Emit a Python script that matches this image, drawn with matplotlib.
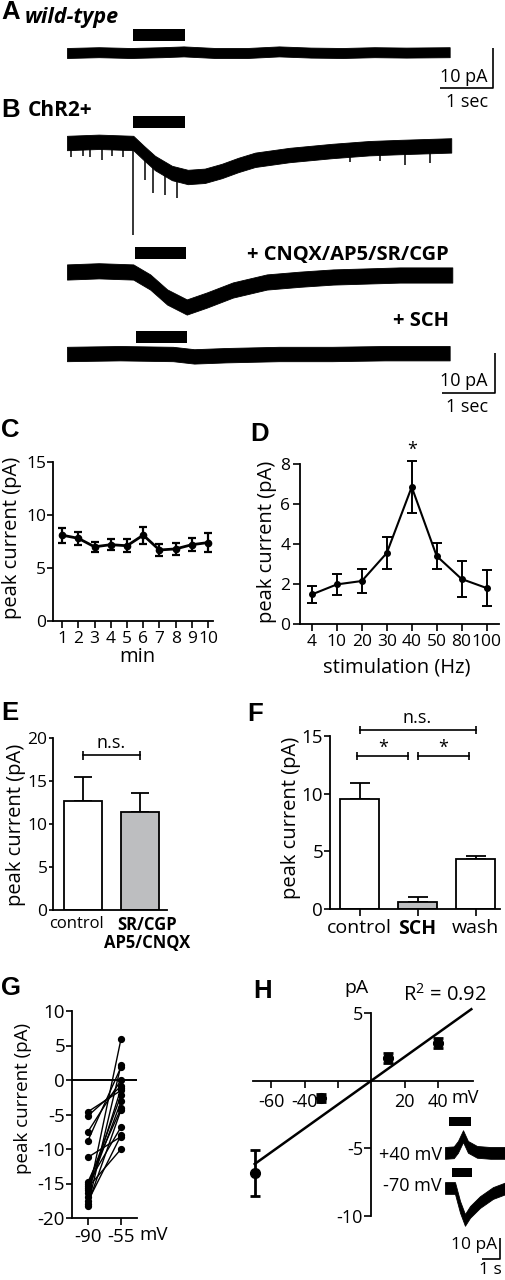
import numpy as np
import matplotlib.pyplot as plt
from matplotlib.patches import Rectangle

plt.rcParams['font.family'] = ['Open Sans', 'DejaVu Sans']
plt.rcParams['axes.unicode_minus'] = False
plt.rcParams['mathtext.fontset'] = 'custom'
plt.rcParams['mathtext.rm'] = 'Open Sans'

# ---------------- data ----------------
# A/B example traces: key times (s) and band centre (pA, relative to baseline)
wt_t = [0, 0.6, 1.2, 1.8, 2.2, 2.8, 3.4, 4.0, 4.6, 5.2, 5.8, 6.4, 7.22]
wt_i = [0, 0.2, 0, 0.2, 0.4, 0, 0, 0.4, 0.1, 0, 0.2, 0.1, 0.2]

chr_t = [0, 0.6, 1.25, 1.45, 1.66, 1.98, 2.28, 2.6, 2.92, 3.23, 3.55, 4.2, 5.0, 5.7, 6.3, 7.25]
chr_i = [0, 0.3, 0, -2.5, -5, -7.5, -8.5, -8.2, -7, -5.5, -4.2, -3, -2, -1.3, -1, -0.6]
# fast inward events on the ChR2+ trace (time s, tip pA)
spk_t = [0.08, 0.3, 0.43, 0.66, 0.85, 1.06, 1.25, 1.47, 1.62, 1.85, 2.08, 3.9, 4.6, 5.34, 5.9, 6.38, 6.85]
spk_i = [-3.5, -3.2, -3.5, -4.2, -3.3, -3.5, -23, -9.2, -12.5, -13, -13.8, -5.0, -4.0, -4.8, -4.5, -5.5, -5]

cnqx_t = [0, 0.6, 1.25, 1.57, 1.89, 2.26, 2.64, 3.13, 3.77, 4.4, 5.02, 6.28, 7.27]
cnqx_i = [0, 0.3, 0, -2.5, -6.25, -8.75, -7, -4.5, -2.5, -1.8, -1.25, -0.75, -0.75]

sch_t = [0, 1.0, 2.0, 2.4, 3.0, 4.0, 5.0, 6.0, 7.22]
sch_i = [0, 0.2, 0, -0.6, -0.3, 0, 0, 0.2, 0.2]

stim_on = [1.25, 1.25, 1.28, 1.30]
stim_dur = 0.97

# C: peak current over time
c_min = [1, 2, 3, 4, 5, 6, 7, 8, 9, 10]
c_mean = [8.1, 7.8, 7.0, 7.2, 7.1, 8.1, 6.7, 6.8, 7.2, 7.4]
c_err = [0.7, 0.6, 0.5, 0.5, 0.6, 0.8, 0.6, 0.6, 0.6, 0.9]

# D: stimulation frequency
d_hz = ['4', '10', '20', '30', '40', '50', '80', '100']
d_mean = [1.48, 1.98, 2.15, 3.55, 6.85, 3.4, 2.25, 1.8]
d_err = [0.42, 0.52, 0.62, 0.78, 1.3, 0.66, 0.9, 0.9]

# E: blockers
e_names = ['control', 'SR/CGP\nAP5/CNQX']
e_mean = [12.7, 11.4]
e_err = [2.8, 2.2]

# F: SCH
f_names = ['control', 'SCH', 'wash']
f_mean = [9.5, 0.6, 4.3]
f_err = [1.4, 0.4, 0.3]

# G: paired cells, -90 vs -55 mV
g_m90 = [-4.6, -5.2, -7.5, -8.8, -11.2, -14.8, -15.0, -15.3, -15.6, -16.0, -16.4, -17.0, -17.6, -18.0, -18.2]
g_m55 = [-1.5, -0.9, 0.0, 1.9, -8.2, -4.1, -6.8, -2.2, -10.0, -3.1, -1.2, 6.0, -8.0, -4.3, 2.2]

# H: I-V
h_mv = [-70, -30, 10, 40]
h_pa = [-6.85, -1.3, 1.67, 2.8]
h_err = [1.7, 0.3, 0.35, 0.35]
fit_slope, fit_icpt = 0.088, 0.0
fit_range = [-70, 60]

# H inset traces (time s, pA rel. baseline)
p40_t = [0, 0.5, 0.74, 1.03, 1.31, 1.83, 2.6, 3.5]
p40_i = [0, 0.3, 2.9, 8.0, 2.9, 0.5, 0, 0]
m70_t = [0, 0.57, 0.86, 1.14, 1.43, 2.0, 2.74, 3.5]
m70_i = [0, 0, -9, -15.2, -11.4, -6.7, -2.4, 0]

# ---------------- figure ----------------
W, H = 506, 1280
fig = plt.figure(figsize=(W / 100, H / 100), dpi=100)


def rect(x0, y0, x1, y1):
    return [x0 / W, 1 - y1 / H, (x1 - x0) / W, (y1 - y0) / H]


def label(x, y, s, **kw):
    fig.text(x / W, 1 - y / H, s, va='center', **kw)


def letter(x, y, s):
    label(x, y, s, family=['Liberation Sans', 'DejaVu Sans'], weight='bold', fontsize=18.5)


def band(ax, t, c, hw, off):
    t = np.array(t)
    c = np.array(c)
    ax.fill_between(t, off + c - hw, off + c + hw, color='k', lw=0.6)


def scalebar(ax, x, y, dx, dy):
    ax.plot([x - dx, x, x], [y, y, y + dy], color='k', lw=1.2, solid_capstyle='butt')


def style(ax):
    for s in ['top', 'right']:
        ax.spines[s].set_visible(False)
    for s in ['left', 'bottom']:
        ax.spines[s].set_linewidth(1.3)
    ax.tick_params(width=1.2, length=5, labelsize=12.5, pad=2)
    ax.patch.set_alpha(0)


# ---- A / B traces ----
ax = fig.add_axes(rect(0, 0, 506, 420))
ax.set_xlim(-67 / 53, 439 / 53)
ax.set_ylim(-105, 0)
ax.axis('off')

traces = [(wt_t, wt_i, 1.25, -13.25, 3.0),
          (chr_t, chr_i, 1.8, -35.75, 3.75),
          (cnqx_t, cnqx_i, 1.9, -68.0, 3.25),
          (sch_t, sch_i, 1.8, -88.5, 2.75)]
for k, (t, c, hw, off, bar_b) in enumerate(traces):
    band(ax, t, c, hw, off)
    ax.add_patch(Rectangle((stim_on[k], off + bar_b), stim_dur, 3.0, color='k', lw=0))
base = np.interp(spk_t, chr_t, chr_i)
ax.vlines(spk_t, -35.75 + base, -35.75 + np.array(spk_i), color='k', lw=1.1)

scalebar(ax, 8.04, -22, 1, 10)
scalebar(ax, 8.08, -98.25, 1, 10)
label(488, 77, '10 pA', ha='right', fontsize=13)
label(467, 102, '1 sec', ha='center', fontsize=13)
label(488, 381, '10 pA', ha='right', fontsize=13)
label(467, 407, '1 sec', ha='center', fontsize=13)

letter(1, 12, 'A')
label(25, 17, 'wild-type', weight='bold', style='italic', fontsize=15.5)
letter(1, 110, 'B')
label(28, 110, 'ChR2+', weight='bold', fontsize=15)
label(449, 255, '+ CNQX/AP5/SR/CGP', ha='right', weight='bold', fontsize=14.5)
label(449, 321, '+ SCH', ha='right', weight='bold', fontsize=14.5)

# ---- C ----
ax = fig.add_axes(rect(53, 462, 213, 621))
style(ax)
ax.errorbar(c_min, c_mean, yerr=c_err, fmt='-o', color='k', ms=4.5, lw=2,
            elinewidth=1.6, capsize=3, capthick=1.6, clip_on=False)
ax.set_xlim(0.44, 10.3)
ax.set_ylim(0, 15)
ax.set_xticks(c_min)
ax.set_yticks([0, 5, 10, 15])
ax.tick_params(axis='y', length=4, pad=1)
letter(1, 430, 'C')
label(12, 538, 'peak current (pA)', rotation=90, ha='center', fontsize=14.5)
label(137, 657, 'min', ha='center', fontsize=14.5)

# ---- D ----
ax = fig.add_axes(rect(300, 464, 499, 624))
style(ax)
dx = np.arange(len(d_hz))
ax.errorbar(dx, d_mean, yerr=d_err, fmt='-o', color='k', ms=4, lw=1.5,
            elinewidth=1.4, capsize=3.5, capthick=1.4, clip_on=False)
ax.set_xlim(-0.48, 7.5)
ax.set_ylim(0, 8)
ax.set_xticks(dx)
ax.set_xticklabels(d_hz)
ax.set_yticks([0, 2, 4, 6, 8])
ax.text(4, 8.7, '*', ha='center', va='center', fontsize=13)
letter(250, 434, 'D')
label(267, 542, 'peak current (pA)', rotation=90, ha='center', fontsize=14.5)
label(397, 667, 'stimulation (Hz)', ha='center', fontsize=14.5)

# ---- E ----
ax = fig.add_axes(rect(53, 738, 167, 910))
style(ax)
ex = np.arange(len(e_names))
ax.bar(ex, e_mean, width=0.67, color=['white', '#bdbec0'], edgecolor='k', lw=1.3, zorder=2)
ax.errorbar(ex, e_mean, yerr=[[0] * len(ex), e_err], fmt='none', ecolor='k',
            elinewidth=1.3, capsize=6.5, capthick=1.3, zorder=1)
ax.set_xlim(-0.52, 1.48)
ax.set_ylim(0, 20)
ax.set_yticks([0, 5, 10, 15, 20])
ax.set_xticks(ex)
ax.set_xticklabels([])
ax.tick_params(axis='x', length=0)
ax.tick_params(axis='y', length=3, pad=1)
# category labels, nudged apart as in the original
for i, (name, nudge, wt) in enumerate(zip(e_names, [-4.2, 5.2], ['normal', 'bold'])):
    ax.annotate(name, xy=(ex[i], 0), xycoords=('data', 'axes fraction'),
                xytext=(nudge, -4), textcoords='offset points', ha='center', va='top',
                fontsize=12, weight=wt, linespacing=1.05)
ax.plot([0, 1], [18, 18], color='k', lw=1.2, clip_on=False)
ax.vlines([0, 1], 17.5, 18.5, color='k', lw=1.2, clip_on=False)
ax.text(0.5, 19.4, 'n.s.', ha='center', va='center', fontsize=13)
letter(1, 713, 'E')
label(16, 825, 'peak current (pA)', rotation=90, ha='center', fontsize=14.5)

# ---- F ----
ax = fig.add_axes(rect(330, 736, 500, 909))
style(ax)
fx = np.arange(len(f_names))
ax.bar(fx, f_mean, width=0.67, color=['white', '#bdbec0', 'white'], edgecolor='k', lw=1.3, zorder=2)
ax.errorbar(fx, f_mean, yerr=[[0] * len(fx), f_err], fmt='none', ecolor='k',
            elinewidth=1.3, capsize=7, capthick=1.3, zorder=1)
ax.set_xlim(-0.51, 2.42)
ax.set_ylim(0, 15)
ax.set_yticks([0, 5, 10, 15])
ax.set_xticks(fx)
ax.set_xticklabels(f_names, fontsize=14)
ax.get_xticklabels()[1].set_weight('bold')
ax.tick_params(axis='y', labelsize=13.5, length=4, pad=1)
for x0, x1, y in [(0, 2, 15.5), (-0.04, 0.84, 13.3), (1.01, 1.89, 13.3)]:
    ax.plot([x0, x1], [y, y], color='k', lw=1.2, clip_on=False)
    ax.vlines([x0, x1], y - 0.35, y + 0.35, color='k', lw=1.2, clip_on=False)
ax.text(1.0, 16.6, 'n.s.', ha='center', va='center', fontsize=13, clip_on=False)
ax.text(0.4, 14.0, '*', ha='center', va='center', fontsize=13)
ax.text(1.44, 14.0, '*', ha='center', va='center', fontsize=13)
letter(247, 714, 'F')
label(291, 818, 'peak current (pA)', rotation=90, ha='center', fontsize=14.5)

# ---- G ----
ax = fig.add_axes(rect(72, 1011, 137, 1218))
style(ax)
for a, b in zip(g_m90, g_m55):
    ax.plot([0, 1], [a, b], '-o', color='k', ms=4.2, lw=1.0, clip_on=False)
ax.axhline(0, color='k', lw=1.4)
ax.set_xlim(-0.48, 1.48)
ax.set_ylim(-20, 10)
ax.set_yticks([10, 5, 0, -5, -10, -15, -20])
ax.set_xticks([0, 1])
ax.set_xticklabels(['-90', '-55'])
ax.tick_params(labelsize=13.5)
ax.tick_params(axis='y', length=4, pad=1)
label(139, 1235, 'mV', ha='left', fontsize=13.5)
letter(1, 988, 'G')
label(23, 1098, 'peak current (pA)', rotation=90, ha='center', fontsize=13.5)

# ---- H ----
ax = fig.add_axes(rect(253, 1013, 473, 1216))
style(ax)
ax.spines['left'].set_position(('data', 0))
ax.spines['bottom'].set_position(('data', 0))
ax.errorbar(h_mv, h_pa, yerr=h_err, fmt='o', color='k', ms=7, elinewidth=2,
            capsize=3.5, capthick=2, clip_on=False, zorder=3)
fx_line = np.array(fit_range)
ax.plot(fx_line, fit_slope * fx_line + fit_icpt, color='k', lw=1.8, clip_on=False)
ax.set_xlim(-71, 61)
ax.set_ylim(-10, 5)
ax.set_xticks([-60, -40, -20, 20, 40])
ax.set_xticklabels(['-60', '-40', '', '20', '40'])
ax.set_yticks([5, -5, -10])
ax.tick_params(labelsize=13, length=5)
ax.tick_params(axis='x', pad=4)
ax.tick_params(axis='y', pad=1)
label(452, 1098, 'mV', ha='left', fontsize=13)
label(357, 988, 'pA', ha='center', fontsize=14)
label(403, 995, r'R$^{2}$ = 0.92', ha='left', fontsize=14.5)
letter(253, 991, 'H')

# H inset traces
ax = fig.add_axes(rect(440, 1100, 506, 1280))
ax.set_xlim(-5 / 17.5, 61 / 17.5)
ax.set_ylim(-180 / 2.1, 0)
ax.axis('off')
band(ax, p40_t, p40_i, 2.8, -25.2)
band(ax, m70_t, m70_i, 2.8, -41.9)
ax.add_patch(Rectangle((0.23, -25.2 + 12.9), 1.26, 4.2, color='k', lw=0))
ax.add_patch(Rectangle((0.40, -41.9 + 5.2), 1.14, 4.3, color='k', lw=0))
scalebar(ax, 3.14, -75.7, 1, 10)
label(442, 1155, '+40 mV', ha='right', fontsize=13)
label(442, 1186, '-70 mV', ha='right', fontsize=13)
label(497, 1245, '10 pA', ha='right', fontsize=12.5)
label(490, 1270, '1 s', ha='center', fontsize=12.5)

fig.savefig('out.png', dpi=100)
